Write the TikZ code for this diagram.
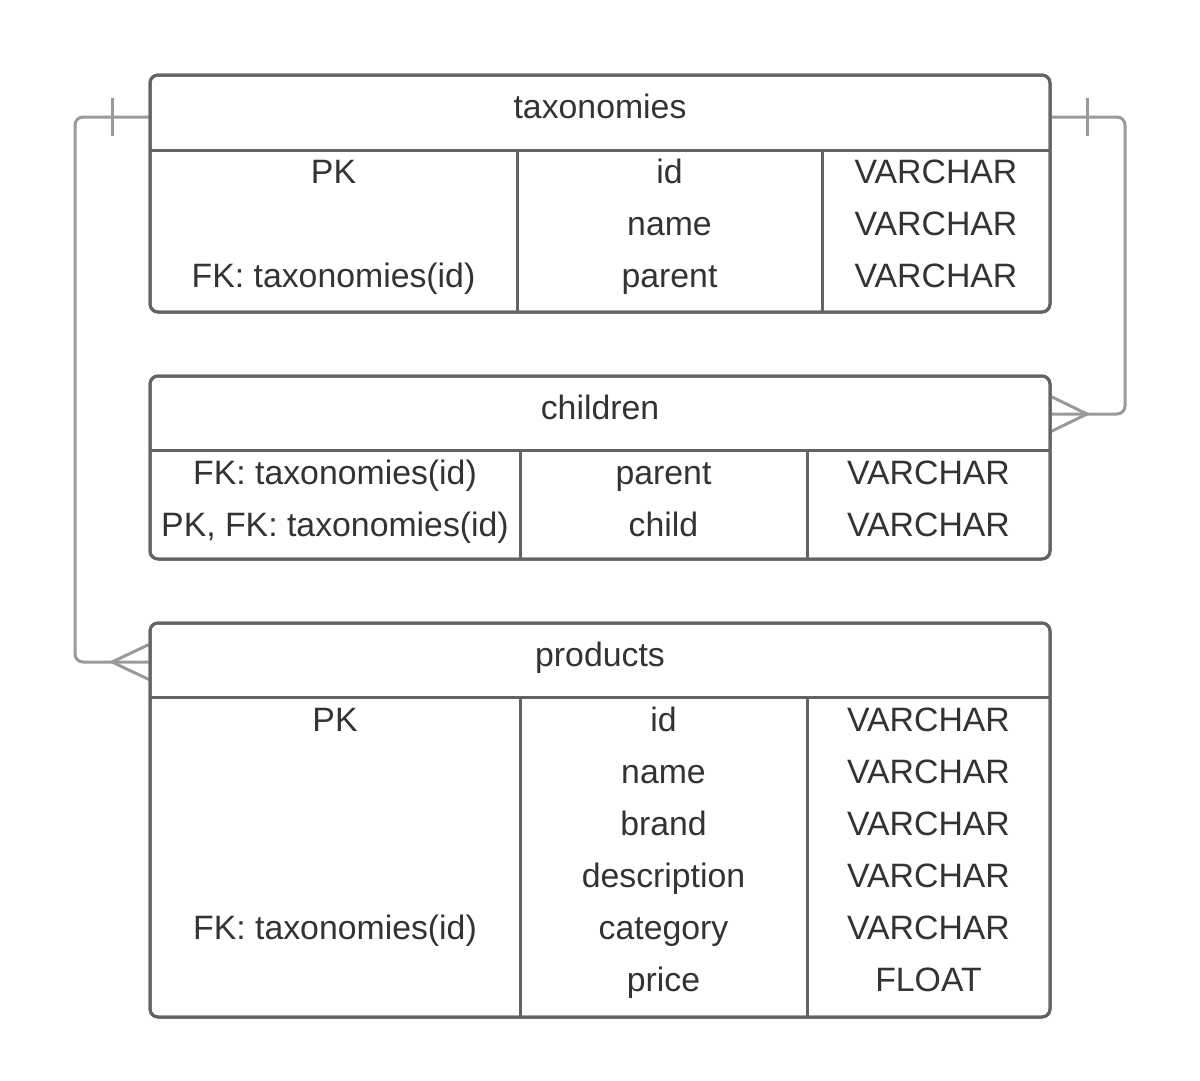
\documentclass[tikz,border=0pt]{standalone}
\usepackage{fontspec}
\setmainfont{Liberation Sans}
\usetikzlibrary{calc}
\definecolor{bordc}{HTML}{636363}
\definecolor{connc}{HTML}{9A9A9A}
\definecolor{txtc}{HTML}{333333}
\tikzset{
  tbl/.style={draw=bordc, line width=3pt, rounded corners=8pt, fill=white, anchor=north west, inner sep=0pt, outer sep=0pt, minimum width=900pt},
  bline/.style={draw=bordc, line width=3pt},
  conn/.style={draw=connc, line width=3pt},
  cell/.style={anchor=base, inner sep=0pt, text=txtc, font=\fontsize{33.8}{40}\selectfont},
}
\begin{document}
\begin{tikzpicture}[x=1pt,y=-1pt]
\useasboundingbox (0,0) rectangle (1200,1080);

% tables
\node[tbl, minimum height=237pt] (tax) at (150,75) {};
\node[tbl, minimum height=183pt] (chi) at (150,376) {};
\node[tbl, minimum height=394pt] (prod) at (150,623) {};

% connection points
\coordinate (tl) at ([yshift=-42pt]tax.north west);
\coordinate (tr) at ([yshift=-42pt]tax.north east);
\coordinate (pl) at ([yshift=-39pt]prod.north west);
\coordinate (cr) at ([yshift=-38pt]chi.north east);

% connectors
\draw[conn, rounded corners=8pt] (tl) -- ++(-75,0) |- (pl);
\draw[conn] ([xshift=-38pt,yshift=19pt]tl) -- ([xshift=-38pt,yshift=-19pt]tl);
\draw[conn] ([yshift=18pt]pl) -- ([xshift=-38pt]pl) -- ([yshift=-18pt]pl);

\draw[conn, rounded corners=8pt] (tr) -- ++(75,0) |- (cr);
\draw[conn] ([xshift=37pt,yshift=19pt]tr) -- ([xshift=37pt,yshift=-19pt]tr);
\draw[conn] ([yshift=18pt]cr) -- ([xshift=37pt]cr) -- ([yshift=-18pt]cr);

% redraw table borders on top
\draw[bline, rounded corners=8pt] (tax.north west) rectangle (tax.south east);
\draw[bline, rounded corners=8pt] (chi.north west) rectangle (chi.south east);
\draw[bline, rounded corners=8pt] (prod.north west) rectangle (prod.south east);

% taxonomies inner lines
\draw[bline] (150,150) -- (1050,150);
\draw[bline] (517,150) -- (517,312);
\draw[bline] (822,150) -- (822,312);
% children inner lines
\draw[bline] (150,450) -- (1050,450);
\draw[bline] (520,450) -- (520,559);
\draw[bline] (807,450) -- (807,559);
% products inner lines
\draw[bline] (150,697) -- (1050,697);
\draw[bline] (520,697) -- (520,1017);
\draw[bline] (807,697) -- (807,1017);

% taxonomies text
\node[cell] (taxh) at (600,118) {taxonomies};
\node[cell] (t1a) at (333.5,183) {PK};
\node[cell] (t1b) at (669.5,183) {id};
\node[cell] (t1c) at (936,183) {VARCHAR};
\node[cell] (t2b) at (669.5,235) {name};
\node[cell] (t2c) at (936,235) {VARCHAR};
\node[cell] (t3a) at (333.5,287) {FK: taxonomies(id)};
\node[cell] (t3b) at (669.5,287) {parent};
\node[cell] (t3c) at (936,287) {VARCHAR};

% children text
\node[cell] (chih) at (600,419) {children};
\node[cell] (c1a) at (335,484) {FK: taxonomies(id)};
\node[cell] (c1b) at (663.5,484) {parent};
\node[cell] (c1c) at (928.5,484) {VARCHAR};
\node[cell] (c2a) at (335,536) {PK, FK: taxonomies(id)};
\node[cell] (c2b) at (663.5,536) {child};
\node[cell] (c2c) at (928.5,536) {VARCHAR};

% products text
\node[cell] (prodh) at (600,666) {products};
\node[cell] (p1a) at (335,731) {PK};
\node[cell] (p1b) at (663.5,731) {id};
\node[cell] (p1c) at (928.5,731) {VARCHAR};
\node[cell] (p2b) at (663.5,783) {name};
\node[cell] (p2c) at (928.5,783) {VARCHAR};
\node[cell] (p3b) at (663.5,835) {brand};
\node[cell] (p3c) at (928.5,835) {VARCHAR};
\node[cell] (p4b) at (663.5,887) {description};
\node[cell] (p4c) at (928.5,887) {VARCHAR};
\node[cell] (p5a) at (335,939) {FK: taxonomies(id)};
\node[cell] (p5b) at (663.5,939) {category};
\node[cell] (p5c) at (928.5,939) {VARCHAR};
\node[cell] (p6b) at (663.5,991) {price};
\node[cell] (p6c) at (928.5,991) {FLOAT};
\end{tikzpicture}
\end{document}
